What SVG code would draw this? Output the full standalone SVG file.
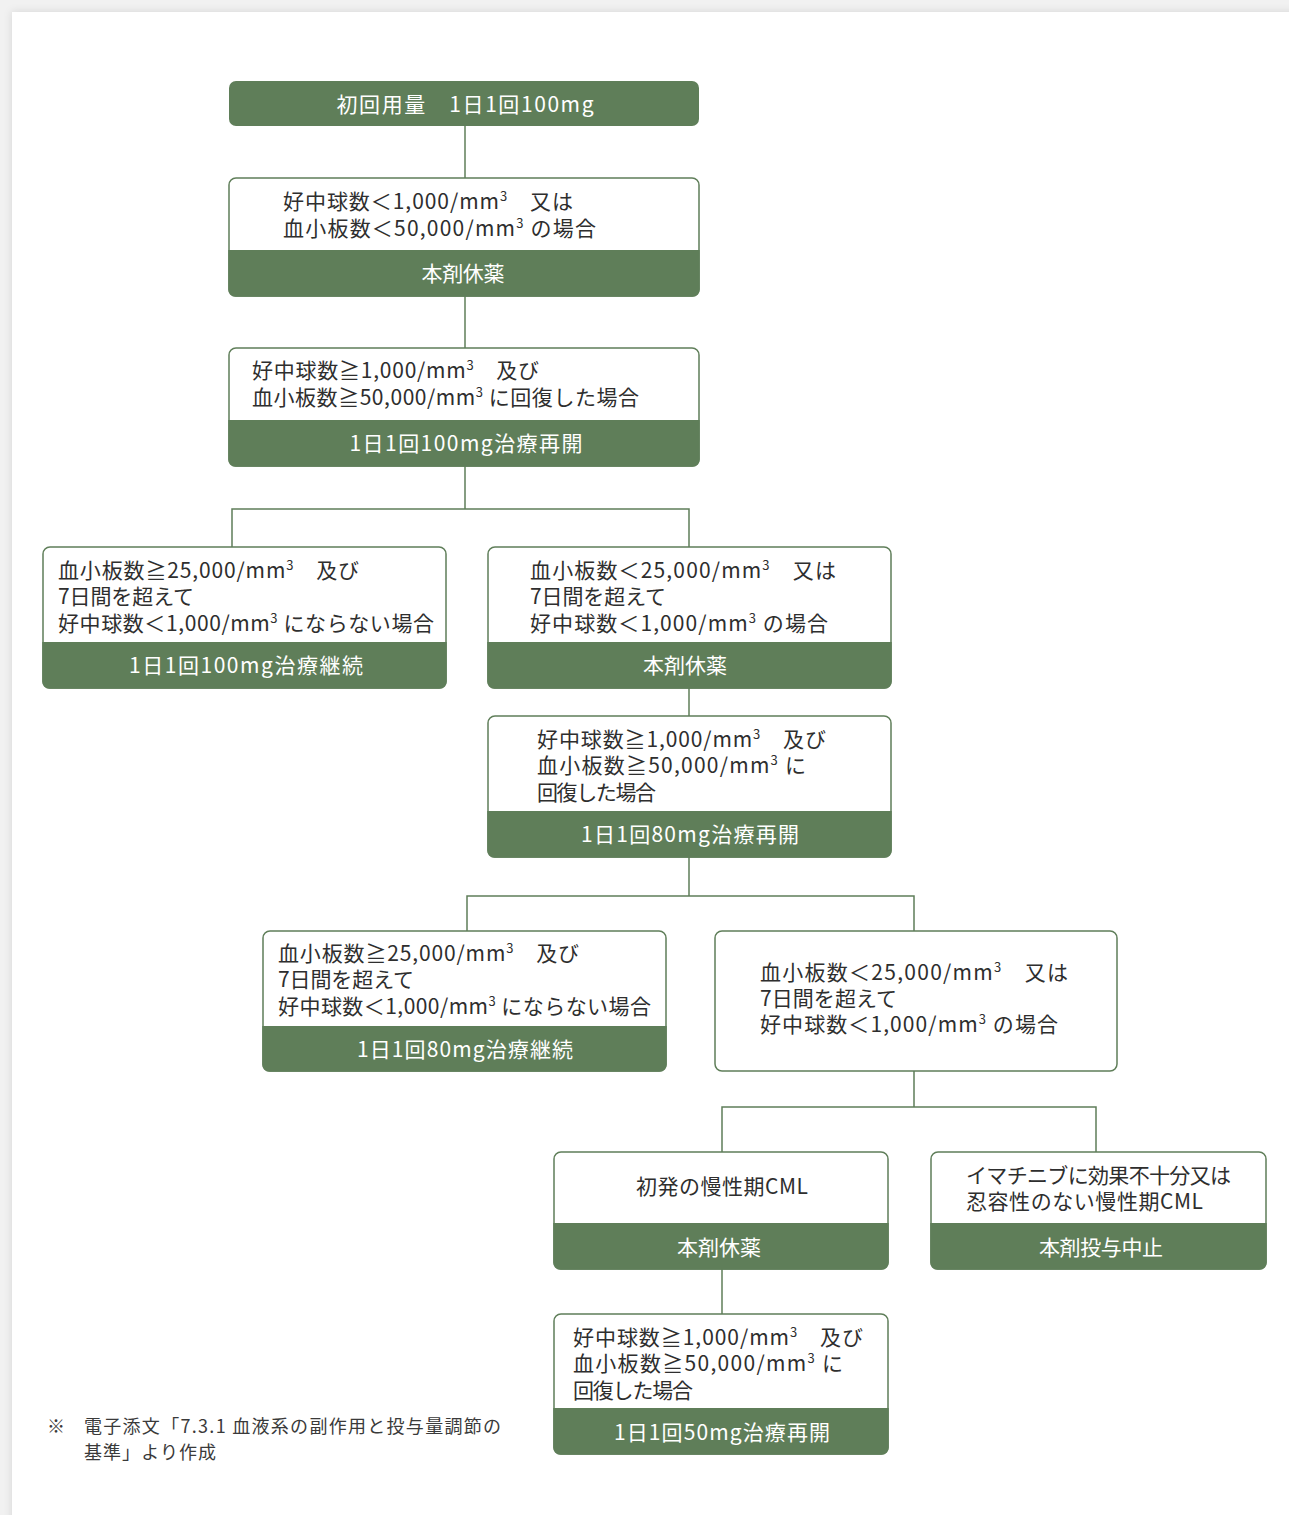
<svg xmlns="http://www.w3.org/2000/svg" width="1289" height="1515" viewBox="0 0 1289 1515">
<defs>
<style>
.box{fill:#fff;stroke:#5f7e59;stroke-width:1.5}
.full{fill:#5f7e59}
.band{fill:#5f7e59}
.t{font-family:"Noto Sans CJK JP","Noto Sans CJK SC",sans-serif;font-size:21px;fill:#2e2e2e}
.w{font-family:"Noto Sans CJK JP","Noto Sans CJK SC",sans-serif;font-size:21px;fill:#fff;text-anchor:middle}
.s{font-size:13px}
.fn{font-family:"Noto Sans CJK JP","Noto Sans CJK SC",sans-serif;font-size:18px;fill:#3a3a3a}
.c{fill:none;stroke:#5f7e59;stroke-width:1.5}
</style>
<filter id="sh" x="-5%" y="-5%" width="110%" height="110%">
<feDropShadow dx="0" dy="0" stdDeviation="4" flood-color="#000" flood-opacity="0.12"/>
</filter>
</defs>
<rect x="0" y="0" width="1289" height="1515" fill="#f1f1f1"/>
<rect x="12" y="12" width="1290" height="1520" fill="#fff" filter="url(#sh)"/>

<g id="connectors">
<path class="c" d="M465 126V178"/>
<path class="c" d="M465 296V348"/>
<path class="c" d="M465 466V509M232 547V509H689V547"/>
<path class="c" d="M689 688V716"/>
<path class="c" d="M689 857V896M467 931V896H914V931"/>
<path class="c" d="M914 1071V1107M722 1152V1107H1096V1152"/>
<path class="c" d="M722 1269V1314"/>
</g>

<g id="n1">
<rect class="full" x="229" y="81" width="470" height="45" rx="7"/>
<text class="w" x="465" y="112" textLength="257" lengthAdjust="spacing">初回用量　1日1回100mg</text>
</g>

<g id="n2">
<rect class="box" x="229" y="178" width="470" height="118" rx="7"/>
<path class="band" d="M228.25 250H699.75V289A7 7 0 0 1 692.75 296.75H235.25A7 7 0 0 1 228.25 289Z"/>
<text class="t" x="283" y="209" textLength="290" lengthAdjust="spacing">好中球数＜1,000/mm<tspan class="s" dy="-8">3</tspan><tspan dy="8">　又は</tspan></text>
<text class="t" x="283" y="236" textLength="313" lengthAdjust="spacing">血小板数＜50,000/mm<tspan class="s" dy="-8">3</tspan><tspan dy="8"> の場合</tspan></text>
<text class="w" x="463" y="281" textLength="83" lengthAdjust="spacing">本剤休薬</text>
</g>

<g id="n3">
<rect class="box" x="229" y="348" width="470" height="118" rx="7"/>
<path class="band" d="M228.25 420H699.75V459A7 7 0 0 1 692.75 466.75H235.25A7 7 0 0 1 228.25 459Z"/>
<text class="t" x="252" y="378" textLength="287" lengthAdjust="spacing">好中球数≧1,000/mm<tspan class="s" dy="-8">3</tspan><tspan dy="8">　及び</tspan></text>
<text class="t" x="252" y="405" textLength="387" lengthAdjust="spacing">血小板数≧50,000/mm<tspan class="s" dy="-8">3</tspan><tspan dy="8"> に回復した場合</tspan></text>
<text class="w" x="466" y="451" textLength="233" lengthAdjust="spacing">1日1回100mg治療再開</text>
</g>

<g id="n4L">
<rect class="box" x="43" y="547" width="403" height="141" rx="7"/>
<path class="band" d="M42.25 642H446.75V681A7 7 0 0 1 439.75 688.75H49.25A7 7 0 0 1 42.25 681Z"/>
<text class="t" x="58" y="578" textLength="301" lengthAdjust="spacing">血小板数≧25,000/mm<tspan class="s" dy="-8">3</tspan><tspan dy="8">　及び</tspan></text>
<text class="t" x="58" y="604" textLength="136" lengthAdjust="spacing">7日間を超えて</text>
<text class="t" x="58" y="631" textLength="376" lengthAdjust="spacing">好中球数＜1,000/mm<tspan class="s" dy="-8">3</tspan><tspan dy="8"> にならない場合</tspan></text>
<text class="w" x="246" y="673" textLength="234" lengthAdjust="spacing">1日1回100mg治療継続</text>
</g>

<g id="n4R">
<rect class="box" x="488" y="547" width="403" height="141" rx="7"/>
<path class="band" d="M487.25 642H891.75V681A7 7 0 0 1 884.75 688.75H494.25A7 7 0 0 1 487.25 681Z"/>
<text class="t" x="530" y="578" textLength="306" lengthAdjust="spacing">血小板数＜25,000/mm<tspan class="s" dy="-8">3</tspan><tspan dy="8">　又は</tspan></text>
<text class="t" x="530" y="604" textLength="136" lengthAdjust="spacing">7日間を超えて</text>
<text class="t" x="530" y="631" textLength="298" lengthAdjust="spacing">好中球数＜1,000/mm<tspan class="s" dy="-8">3</tspan><tspan dy="8"> の場合</tspan></text>
<text class="w" x="685" y="673" textLength="84" lengthAdjust="spacing">本剤休薬</text>
</g>

<g id="n5">
<rect class="box" x="488" y="716" width="403" height="141" rx="7"/>
<path class="band" d="M487.25 811H891.75V850A7 7 0 0 1 884.75 857.75H494.25A7 7 0 0 1 487.25 850Z"/>
<text class="t" x="537" y="747" textLength="289" lengthAdjust="spacing">好中球数≧1,000/mm<tspan class="s" dy="-8">3</tspan><tspan dy="8">　及び</tspan></text>
<text class="t" x="537" y="773" textLength="269" lengthAdjust="spacing">血小板数≧50,000/mm<tspan class="s" dy="-8">3</tspan><tspan dy="8"> に</tspan></text>
<text class="t" x="537" y="800" textLength="119" lengthAdjust="spacing">回復した場合</text>
<text class="w" x="690" y="842" textLength="218" lengthAdjust="spacing">1日1回80mg治療再開</text>
</g>

<g id="n6L">
<rect class="box" x="263" y="931" width="403" height="140" rx="7"/>
<path class="band" d="M262.25 1026H666.75V1064A7 7 0 0 1 659.75 1071.75H269.25A7 7 0 0 1 262.25 1064Z"/>
<text class="t" x="278" y="961" textLength="301" lengthAdjust="spacing">血小板数≧25,000/mm<tspan class="s" dy="-8">3</tspan><tspan dy="8">　及び</tspan></text>
<text class="t" x="278" y="987" textLength="136" lengthAdjust="spacing">7日間を超えて</text>
<text class="t" x="278" y="1014" textLength="373" lengthAdjust="spacing">好中球数＜1,000/mm<tspan class="s" dy="-8">3</tspan><tspan dy="8"> にならない場合</tspan></text>
<text class="w" x="465" y="1057" textLength="216" lengthAdjust="spacing">1日1回80mg治療継続</text>
</g>

<g id="n6R">
<rect class="box" x="715" y="931" width="402" height="140" rx="7"/>
<text class="t" x="760" y="980" textLength="308" lengthAdjust="spacing">血小板数＜25,000/mm<tspan class="s" dy="-8">3</tspan><tspan dy="8">　又は</tspan></text>
<text class="t" x="760" y="1006" textLength="137" lengthAdjust="spacing">7日間を超えて</text>
<text class="t" x="760" y="1032" textLength="298" lengthAdjust="spacing">好中球数＜1,000/mm<tspan class="s" dy="-8">3</tspan><tspan dy="8"> の場合</tspan></text>
</g>

<g id="n7L">
<rect class="box" x="554" y="1152" width="334" height="117" rx="7"/>
<path class="band" d="M553.25 1223H888.75V1262A7 7 0 0 1 881.75 1269.75H560.25A7 7 0 0 1 553.25 1262Z"/>
<text class="t" x="722" y="1194" text-anchor="middle" textLength="172" lengthAdjust="spacing">初発の慢性期CML</text>
<text class="w" x="719" y="1255" textLength="84" lengthAdjust="spacing">本剤休薬</text>
</g>

<g id="n7R">
<rect class="box" x="931" y="1152" width="335" height="117" rx="7"/>
<path class="band" d="M930.25 1223H1266.75V1262A7 7 0 0 1 1259.75 1269.75H937.25A7 7 0 0 1 930.25 1262Z"/>
<text class="t" x="966" y="1183" textLength="265" lengthAdjust="spacing">イマチニブに効果不十分又は</text>
<text class="t" x="966" y="1209" textLength="237" lengthAdjust="spacing">忍容性のない慢性期CML</text>
<text class="w" x="1101" y="1255" textLength="124" lengthAdjust="spacing">本剤投与中止</text>
</g>

<g id="n8">
<rect class="box" x="554" y="1314" width="334" height="140" rx="7"/>
<path class="band" d="M553.25 1408H888.75V1447A7 7 0 0 1 881.75 1454.75H560.25A7 7 0 0 1 553.25 1447Z"/>
<text class="t" x="573" y="1345" textLength="290" lengthAdjust="spacing">好中球数≧1,000/mm<tspan class="s" dy="-8">3</tspan><tspan dy="8">　及び</tspan></text>
<text class="t" x="573" y="1371" textLength="270" lengthAdjust="spacing">血小板数≧50,000/mm<tspan class="s" dy="-8">3</tspan><tspan dy="8"> に</tspan></text>
<text class="t" x="573" y="1398" textLength="120" lengthAdjust="spacing">回復した場合</text>
<text class="w" x="722" y="1440" textLength="216" lengthAdjust="spacing">1日1回50mg治療再開</text>
</g>

<g id="footnote">
<text class="fn" x="47" y="1433">※</text>
<text class="fn" x="84" y="1433" textLength="417" lengthAdjust="spacing">電子添文「7.3.1 血液系の副作用と投与量調節の</text>
<text class="fn" x="84" y="1459" textLength="132" lengthAdjust="spacing">基準」より作成</text>
</g>
</svg>
